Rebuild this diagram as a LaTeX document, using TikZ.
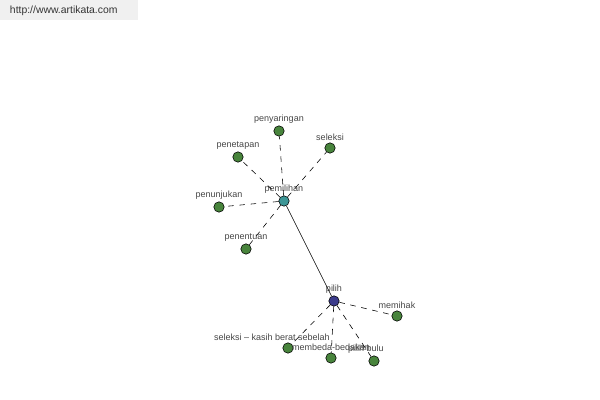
\documentclass[tikz,border=0pt]{standalone}
\usepackage{fontspec}
\setmainfont{Liberation Sans}
\usetikzlibrary{positioning}

\definecolor{leafgreen}{RGB}{72,132,60}
\definecolor{hubteal}{RGB}{60,150,150}
\definecolor{hubnavy}{RGB}{60,60,140}
\definecolor{lblgray}{RGB}{70,70,70}

\begin{document}
\begin{tikzpicture}[
  x=0.025cm, y=-0.025cm,
  vtx/.style={circle, draw=black, line width=0.4pt, minimum size=0.26cm, inner sep=0pt},
  leaf/.style={vtx, fill=leafgreen},
  hub/.style={vtx, fill=hubteal},
  root/.style={vtx, fill=hubnavy},
  lbl/.style={font=\fontsize{6.4}{7}\selectfont, text=lblgray, inner sep=1pt},
  syn/.style={dashed, dash pattern=on 4pt off 4pt, line width=0.4pt},
  tie/.style={line width=0.4pt},
]
\useasboundingbox (0,0) rectangle (600,400);
% --- header ---
\fill[gray!12] (0,0) rectangle (138,20);
\node[font=\fontsize{7.4}{8}\selectfont, text=black!80, anchor=west] (url) at (5,11) {http://www.artikata.com};

% --- pemilihan cluster ---
\node[hub, label={[lbl]above:pemilihan}] (pemilihan) at (284,201) {};
\node[leaf, label={[lbl]above:penyaringan}] (penyaringan) at (279,131) {};
\node[leaf, label={[lbl]above:seleksi}] (seleksi) at (330,148) {};
\node[leaf, label={[lbl]above:penetapan}] (penetapan) at (238,157) {};
\node[leaf, label={[lbl]above:penunjukan}] (penunjukan) at (219,207) {};
\node[leaf, label={[lbl]above:penentuan}] (penentuan) at (246,249) {};

% --- pilih cluster ---
\node[root, label={[lbl]above:pilih}] (pilih) at (334,301) {};
\node[leaf, label={[lbl]above:memihak}] (memihak) at (397,316) {};
\node[leaf, label={[lbl, xshift=-0.4cm]above:seleksi -- kasih berat sebelah}] (kasih) at (288,348) {};
\node[leaf, label={[lbl]above:membeda-bedakan}] (membeda) at (331,358) {};
\node[leaf, label={[lbl, xshift=-0.2cm]above:pilih bulu}] (bulu) at (374,361) {};

% --- edges ---
\foreach \n in {penyaringan,seleksi,penetapan,penunjukan,penentuan}
  \draw[syn] (pemilihan) -- (\n);
\foreach \n in {memihak,kasih,membeda,bulu}
  \draw[syn] (pilih) -- (\n);
\draw[tie] (pemilihan) -- (pilih);
\end{tikzpicture}
\end{document}
